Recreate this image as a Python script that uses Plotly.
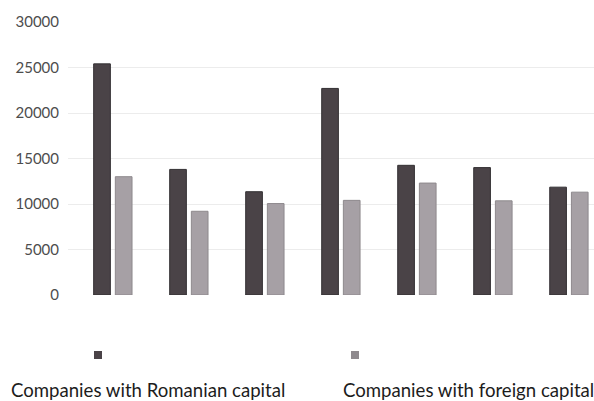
import plotly.graph_objects as go

categories = ["G1", "G2", "G3", "G4", "G5", "G6", "G7"]
romanian = [25400, 13800, 11350, 22700, 14250, 14000, 11850]
foreign = [13000, 9200, 10050, 10400, 12300, 10350, 11300]
series_names = ["Companies with Romanian capital", "Companies with foreign capital"]
tick_vals = [0, 5000, 10000, 15000, 20000, 25000, 30000]

DARK = "#4a4347"
LIGHT = "#a6a0a5"
FONT = "Lato"

fig = go.Figure()
fig.add_trace(go.Bar(x=list(range(len(categories))), y=romanian, name=series_names[0],
                     marker=dict(color=DARK, line=dict(color="#333033", width=1)), showlegend=False))
fig.add_trace(go.Bar(x=list(range(len(categories))), y=foreign, name=series_names[1],
                     marker=dict(color=LIGHT, line=dict(color="#8e898d", width=1)), showlegend=False))

W, H = 594, 401
L, R, T, B = 68, 0, 22, 106
pw, ph = W - L - R, H - T - B

def px(x):
    return (x - L) / pw

def py(y):
    return (H - B - y) / ph

shapes = [
    dict(type="rect", xref="paper", yref="paper", x0=px(94), x1=px(102), y0=py(359), y1=py(351),
         fillcolor=DARK, line=dict(width=0)),
    dict(type="rect", xref="paper", yref="paper", x0=px(351), x1=px(359), y0=py(359), y1=py(351),
         fillcolor="#8f8a8e", line=dict(width=0)),
]
annotations = [
    dict(text=series_names[0], xref="paper", yref="paper", x=px(9), y=py(390), xanchor="left",
         yanchor="middle", showarrow=False, font=dict(family=FONT, size=18.6, color="#1c1c1c")),
    dict(text=series_names[1], xref="paper", yref="paper", x=px(341), y=py(390), xanchor="left",
         yanchor="middle", showarrow=False, font=dict(family=FONT, size=18.6, color="#1c1c1c")),
]

fig.update_layout(
    width=W, height=H,
    margin=dict(l=L, r=R, t=T, b=B, pad=0),
    paper_bgcolor="white", plot_bgcolor="white",
    barmode="group", bargap=0.43, bargroupgap=0.23,
    shapes=shapes, annotations=annotations,
    font=dict(family=FONT),
    xaxis=dict(range=[-0.59, 6.33], showticklabels=False, showgrid=False, zeroline=False,
               showline=False, ticks=""),
    yaxis=dict(range=[0, 30000], tickvals=tick_vals, ticktext=[str(v) for v in tick_vals],
               showgrid=True, gridcolor="#ececec", gridwidth=1, zeroline=False, showline=False,
               tickfont=dict(family=FONT, size=15, color="#4d4d4d"), ticks="", ticklabelstandoff=8),
)

fig.write_html("out.html")
